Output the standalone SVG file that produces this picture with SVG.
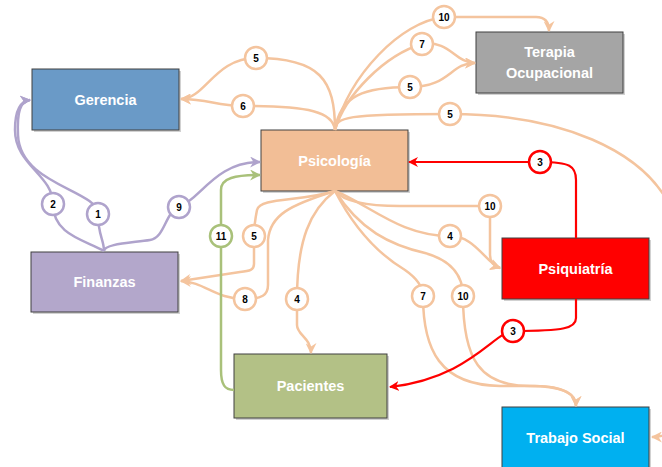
<svg xmlns="http://www.w3.org/2000/svg" width="662" height="467" viewBox="0 0 662 467">
<defs>
<style>
.node text{font-family:"Liberation Sans",Arial,sans-serif;font-weight:bold;font-size:14.5px;fill:#fff;text-anchor:middle}
.box{stroke:#404040;stroke-width:1}
.shadow{fill:#000;opacity:0.18}
.e{fill:none;stroke-width:2.5}
.pe{stroke:#F4C49E}
.pu{stroke:#AFA3CC}
.gr{stroke:#A9C17A}
.rd{stroke:#FF0000;stroke-width:2.2}
.lab circle{fill:#fff;stroke-width:2.5}
.lab text{font-family:"Liberation Sans",Arial,sans-serif;font-weight:bold;font-size:10px;fill:#000;text-anchor:middle}
</style>
<marker id="ap" viewBox="0 0 10 10" refX="9" refY="5" markerWidth="11" markerHeight="11" markerUnits="userSpaceOnUse" orient="auto"><path d="M0,0 L10,5 L0,10 L3,5 z" fill="#F4C49E"/></marker>
<marker id="au" viewBox="0 0 10 10" refX="9" refY="5" markerWidth="11" markerHeight="11" markerUnits="userSpaceOnUse" orient="auto"><path d="M0,0 L10,5 L0,10 L3,5 z" fill="#AFA3CC"/></marker>
<marker id="ag" viewBox="0 0 10 10" refX="9" refY="5" markerWidth="11" markerHeight="11" markerUnits="userSpaceOnUse" orient="auto"><path d="M0,0 L10,5 L0,10 L3,5 z" fill="#A9C17A"/></marker>
<marker id="ar" viewBox="0 0 10 10" refX="9" refY="5" markerWidth="10" markerHeight="10" markerUnits="userSpaceOnUse" orient="auto"><path d="M0,0 L10,5 L0,10 L3,5 z" fill="#FF0000"/></marker>
</defs>
<rect width="662" height="467" fill="#fff"/>

<g id="gerencia" class="node"><rect class="shadow" x="34" y="71" width="147" height="61"/><rect class="box" x="32" y="69" width="147" height="61" fill="#6A9AC7"/><text x="105.5" y="105">Gerencia</text></g>
<g id="psicologia" class="node"><rect class="shadow" x="263" y="132" width="147" height="61"/><rect class="box" x="261" y="130" width="147" height="61" fill="#F2BE96"/><text x="334.5" y="166">Psicología</text></g>
<g id="finanzas" class="node"><rect class="shadow" x="33" y="254" width="147" height="60"/><rect class="box" x="31" y="252" width="147" height="60" fill="#B3A7CB"/><text x="104.5" y="287">Finanzas</text></g>
<g id="terapia" class="node"><rect class="shadow" x="478" y="34" width="147" height="61"/><rect class="box" x="476" y="32" width="147" height="61" fill="#A5A5A5"/><text x="549.5" y="57">Terapia</text><text x="549.5" y="78">Ocupacional</text></g>
<g id="psiquiatria" class="node"><rect class="shadow" x="504" y="240" width="147" height="61"/><rect class="box" x="502" y="238" width="147" height="61" fill="#FF0000"/><text x="575.5" y="274">Psiquiatría</text></g>
<g id="pacientes" class="node"><rect class="shadow" x="236" y="356" width="153" height="64"/><rect class="box" x="234" y="354" width="153" height="64" fill="#B3C186"/><text x="310.5" y="391">Pacientes</text></g>
<g id="trabajo" class="node"><rect class="shadow" x="504" y="409" width="147" height="70"/><rect class="box" x="502" y="407" width="147" height="70" fill="#00B0F0"/><text x="575.5" y="443">Trabajo Social</text></g>

<g id="connectors">
<path class="e pe" marker-end="url(#ap)" d="M335,130 C335,80 320,58 256,58 C215,58 205,99 181,99"/>
<path class="e pe" marker-end="url(#ap)" d="M335,130 C333,112 310,106 243,106 C215,106 210,99 181,99"/>
<path class="e pe" marker-end="url(#ap)" d="M335,130 C350,75 400,22 444,17 L536,17 C545,17 549,22 549,31"/>
<path class="e pe" marker-end="url(#ap)" d="M335,130 C345,95 385,55 422,44 C450,40 455,63 475,63"/>
<path class="e pe" marker-end="url(#ap)" d="M335,130 C340,95 365,87 410,87 C450,87 450,63 475,63"/>
<path class="e pe" marker-end="url(#ap)" d="M335,130 C336,117 345,114 450,114 C560,114 645,150 672,210 C700,270 700,400 680,425 C672,433 662,437 652,437"/>
<path class="e pe" marker-end="url(#ap)" d="M335,191 C300,202 260,197 257,210 C255,220 254,228 254,236 L254,264 C254,270 250,271 240,272 L181,281"/>
<path class="e pe" marker-end="url(#ap)" d="M335,191 C290,205 270,215 268,240 L268,285 C268,295 262,299 245,299 C215,299 205,282 181,281"/>
<path class="e pe" marker-end="url(#ap)" d="M335,191 C310,210 297,240 297,299 L297,325 C297,335 311,338 311,353"/>
<path class="e pe" marker-end="url(#ap)" d="M335,191 C355,230 380,255 405,270 C415,277 423,285 423,296 C423,350 440,385 500,386 L535,386 C565,386 576,395 576,406"/>
<path class="e pe" marker-end="url(#ap)" d="M335,191 C360,230 390,245 425,253 C450,260 463,275 463,296 C463,360 480,386 530,386 C565,386 576,395 576,406"/>
<path class="e pe" marker-end="url(#ap)" d="M335,191 C370,205 400,236 450,236 C475,236 485,262 500,268"/>
<path class="e pe" marker-end="url(#ap)" d="M335,191 C345,203 370,206 400,206 L490,206 L490,255 C490,262 494,266 500,268"/>
<path class="e pu" marker-end="url(#au)" d="M104,251 C104,244 130,243 150,240 C165,238 165,212 179,207 C200,200 215,162 260,162"/>
<path class="e pu" marker-end="url(#au)" d="M104,251 C104,240 98,235 98,214 C98,190 20,185 18,135 C17,112 20,101 30,100"/>
<path class="e pu" marker-end="url(#au)" d="M104,251 C85,240 53,235 53,204 C53,175 15,165 15,130 C15,112 20,101 30,100"/>
<path class="e gr" marker-end="url(#ag)" d="M234,390 C225,390 221,385 221,370 L221,190 C221,178 235,175 260,175"/>
<path class="e rd" marker-end="url(#ar)" d="M576,238 L576,180 C576,166 570,162 540,162 L409,162"/>
<path class="e rd" marker-end="url(#ar)" d="M576,299 L576,318 C576,328 565,331 513,331 C495,331 470,378 390,387"/>

<g class="lab">
<g><circle cx="256" cy="58" r="11" stroke="#F4C49E"/><text x="256" y="62">5</text></g>
<g><circle cx="243" cy="106" r="11" stroke="#F4C49E"/><text x="243" y="110">6</text></g>
<g><circle cx="444" cy="17" r="11" stroke="#F4C49E"/><text x="444" y="21">10</text></g>
<g><circle cx="422" cy="44" r="11" stroke="#F4C49E"/><text x="422" y="48">7</text></g>
<g><circle cx="410" cy="87" r="11" stroke="#F4C49E"/><text x="410" y="91">5</text></g>
<g><circle cx="450" cy="114" r="11" stroke="#F4C49E"/><text x="450" y="118">5</text></g>
<g><circle cx="254" cy="236" r="11" stroke="#F4C49E"/><text x="254" y="240">5</text></g>
<g><circle cx="245" cy="299" r="11" stroke="#F4C49E"/><text x="245" y="303">8</text></g>
<g><circle cx="297" cy="299" r="11" stroke="#F4C49E"/><text x="297" y="303">4</text></g>
<g><circle cx="423" cy="296" r="11" stroke="#F4C49E"/><text x="423" y="300">7</text></g>
<g><circle cx="463" cy="296" r="11" stroke="#F4C49E"/><text x="463" y="300">10</text></g>
<g><circle cx="450" cy="236" r="11" stroke="#F4C49E"/><text x="450" y="240">4</text></g>
<g><circle cx="490" cy="206" r="11" stroke="#F4C49E"/><text x="490" y="210">10</text></g>
<g><circle cx="179" cy="207" r="11" stroke="#AFA3CC"/><text x="179" y="211">9</text></g>
<g><circle cx="98" cy="214" r="11" stroke="#AFA3CC"/><text x="98" y="218">1</text></g>
<g><circle cx="53" cy="204" r="11" stroke="#AFA3CC"/><text x="53" y="208">2</text></g>
<g><circle cx="221" cy="236" r="11" stroke="#A9C17A"/><text x="221" y="240">11</text></g>
<g><circle cx="540" cy="162" r="11" stroke="#FF0000" stroke-width="2.2"/><text x="540" y="166">3</text></g>
<g><circle cx="513" cy="331" r="11" stroke="#FF0000" stroke-width="2.2"/><text x="513" y="335">3</text></g>
</g>
</g>
</svg>
